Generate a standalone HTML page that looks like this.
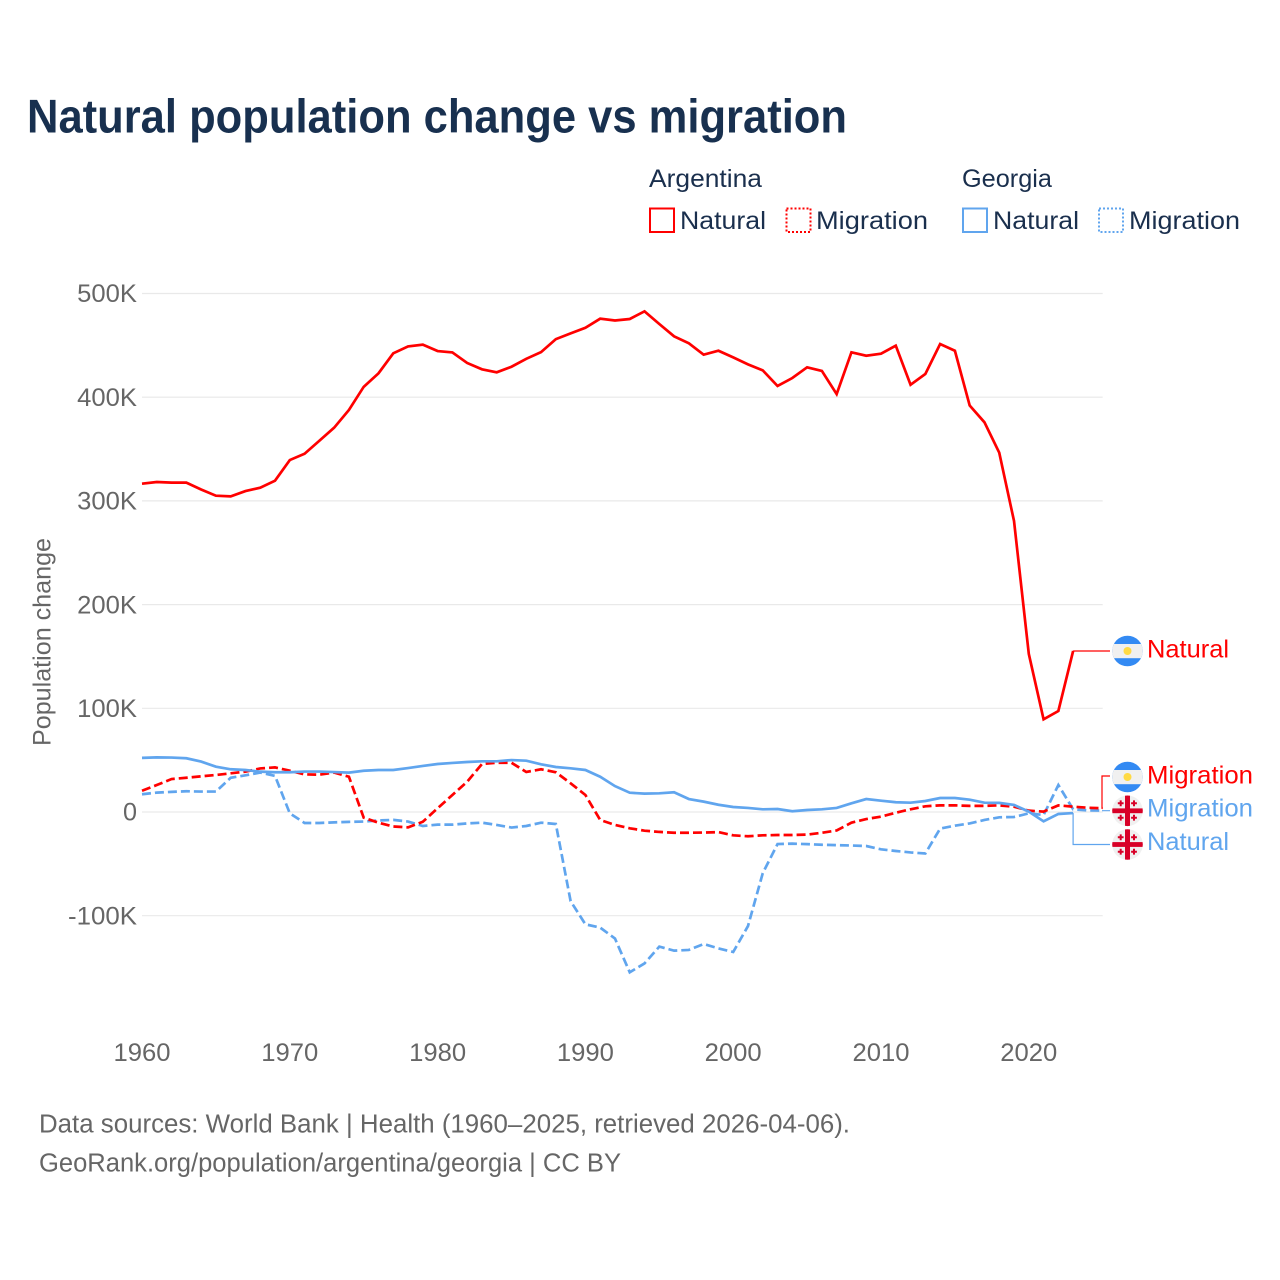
<!DOCTYPE html>
<html lang="en">
<head>
<meta charset="utf-8">
<title>Natural population change vs migration</title>
<style>
html,body{margin:0;padding:0;background:#fff;width:1280px;height:1280px;overflow:hidden}
svg{display:block;font-family:"Liberation Sans",sans-serif}
.lg{font-size:25px;fill:#1a2f4d}
.tick{font-size:25px;fill:#666}
.foot{font-size:25.5px;fill:#666}
</style>
</head>
<body>
<svg id="chart" xmlns="http://www.w3.org/2000/svg" width="1280" height="1280" viewBox="0 0 1280 1280">
<rect width="1280" height="1280" fill="#fff"/>
<defs>
<clipPath id="flag-clip-1"><circle cx="1127.5" cy="651" r="15.3"/></clipPath>
<clipPath id="flag-clip-2"><circle cx="1127.5" cy="777" r="15.3"/></clipPath>
<clipPath id="flag-clip-3"><circle cx="1127.5" cy="810.8" r="15.3"/></clipPath>
<clipPath id="flag-clip-4"><circle cx="1127.5" cy="844.5" r="15.3"/></clipPath>
</defs>

<text x="27" y="132.7" font-size="47" font-weight="700" fill="#18304f" textLength="820" lengthAdjust="spacingAndGlyphs">Natural population change vs migration</text>

<g>
<text class="lg" x="649" y="187" textLength="113" lengthAdjust="spacingAndGlyphs">Argentina</text>
<text class="lg" x="962" y="187" textLength="90" lengthAdjust="spacingAndGlyphs">Georgia</text>
<g>
<rect x="650" y="208.5" width="24" height="23.5" fill="none" stroke="#ff0000" stroke-width="2"/>
<text class="lg" x="680" y="229" textLength="86" lengthAdjust="spacingAndGlyphs">Natural</text>
</g>
<g>
<rect x="786.5" y="208.5" width="24" height="23.5" fill="none" stroke="#ff0000" stroke-width="2" stroke-dasharray="2 2"/>
<text class="lg" x="816" y="229" textLength="112" lengthAdjust="spacingAndGlyphs">Migration</text>
</g>
<g>
<rect x="963" y="208.5" width="24" height="23.5" fill="none" stroke="#60a5ee" stroke-width="2"/>
<text class="lg" x="993" y="229" textLength="86" lengthAdjust="spacingAndGlyphs">Natural</text>
</g>
<g>
<rect x="1099" y="208.5" width="24" height="23.5" fill="none" stroke="#60a5ee" stroke-width="2" stroke-dasharray="2 2"/>
<text class="lg" x="1129" y="229" textLength="111" lengthAdjust="spacingAndGlyphs">Migration</text>
</g>
</g>

<g id="grid"></g>
<g id="yticks"></g>
<g id="xticks"></g>
<text class="tick" transform="translate(50.500,642) rotate(-90)" text-anchor="middle" textLength="208" lengthAdjust="spacingAndGlyphs">Population change</text>
<g id="series"></g>

<g>
<g clip-path="url(#flag-clip-1)">
<rect x="1110" y="634" width="36" height="34" fill="#338af3"/><rect x="1110" y="644" width="36" height="14.2" fill="#f0f0f0"/><circle cx="1127.5" cy="651" r="4" fill="#ffda44"/>
</g>
<text x="1147" y="657.5" font-size="25" fill="#ff0000" textLength="82" lengthAdjust="spacingAndGlyphs">Natural</text>
<g clip-path="url(#flag-clip-2)">
<rect x="1110" y="760" width="36" height="34" fill="#338af3"/><rect x="1110" y="770" width="36" height="14.2" fill="#f0f0f0"/><circle cx="1127.5" cy="777" r="4" fill="#ffda44"/>
</g>
<text x="1147" y="783.5" font-size="25" fill="#ff0000" textLength="106" lengthAdjust="spacingAndGlyphs">Migration</text>
<g clip-path="url(#flag-clip-3)">
<rect x="1110" y="794" width="36" height="34" fill="#f0f0f0"/><rect x="1125" y="794" width="5" height="34" fill="#d80027"/><rect x="1110" y="808.4" width="36" height="4.800" fill="#d80027"/>
<path d="M1117.800 803.300h5.800M1120.700 800.400v5.800M1131.100 803.300h5.800M1134 800.400v5.800M1117.800 817.700h5.800M1120.700 814.800v5.800M1131.100 817.700h5.800M1134 814.800v5.800" stroke="#d80027" stroke-width="2" fill="none"/>
</g>
<text x="1147" y="816.700" font-size="25" fill="#60a5ee" textLength="106" lengthAdjust="spacingAndGlyphs">Migration</text>
<g clip-path="url(#flag-clip-4)">
<rect x="1110" y="828" width="36" height="34" fill="#f0f0f0"/><rect x="1125" y="828" width="5" height="34" fill="#d80027"/><rect x="1110" y="842.100" width="36" height="4.800" fill="#d80027"/>
<path d="M1117.800 837.300h5.800M1120.700 834.400v5.800M1131.100 837.300h5.800M1134 834.400v5.800M1117.800 851.700h5.800M1120.700 848.800v5.800M1131.100 851.700h5.800M1134 848.800v5.800" stroke="#d80027" stroke-width="2" fill="none"/>
</g>
<text x="1147" y="850" font-size="25" fill="#60a5ee" textLength="82" lengthAdjust="spacingAndGlyphs">Natural</text>
</g>

<text class="foot" x="39" y="1132.500" textLength="811" lengthAdjust="spacingAndGlyphs">Data sources: World Bank | Health (1960–2025, retrieved 2026-04-06).</text>
<text class="foot" x="39" y="1171.500" textLength="582" lengthAdjust="spacingAndGlyphs">GeoRank.org/population/argentina/georgia | CC BY</text>
</svg>
<script>
const startYear = 1960;
const xTickYears = [1960, 1970, 1980, 1990, 2000, 2010, 2020];
const yTickValues = [-100, 0, 100, 200, 300, 400, 500];
const yTickLabels = ['-100K', '0', '100K', '200K', '300K', '400K', '500K'];
const argentinaNatural = [316.6,318.2,317.6,317.6,311,305,304.4,309.5,312.7,319.5,339.4,345.5,358,370.6,387.7,410,423,442.3,449,450.7,444.5,443.2,433,426.9,424,429.4,437,443.5,456,461.6,467,475.7,474,475.4,482.8,470.6,458.7,452,441,444.8,438.4,431.7,425.9,410.8,418.5,428.8,425.3,403,443.3,440,442,449.7,412,422.4,451.3,444.8,392,375.8,346.5,280.6,152.4,89.4,97.4,155.3];
const argentinaMigration = [20.5,26,31.8,33,34.4,35.7,37.3,38.9,42,43,39.8,36.3,36,38,34,-5.5,-10.3,-14,-14.8,-9.4,3.6,16.4,29.2,46.3,47.5,47.5,38.6,41.2,38.3,27.7,16.4,-7.7,-12.5,-15.7,-18,-19.2,-20,-20,-19.8,-19.4,-22.5,-23.4,-22.5,-22.2,-22.2,-21.8,-20,-17.8,-10.3,-6.8,-4.5,-0.7,2.6,5.5,6.4,6.4,5.9,5.9,6.4,5.1,1.3,0.4,6.4,5.1,4.1,3.6];
const georgiaNatural = [52.2,52.7,52.5,51.8,48.6,43.7,41.2,40.5,38.9,38.3,38.3,39,39,38.5,38,39.8,40.5,40.5,42.4,44.4,46.3,47.3,48.2,48.9,48.9,50.1,49.5,46,43.4,42.1,40.5,34,25,18.6,17.7,18,19,12.5,10,7,4.8,3.9,2.6,2.9,0.7,1.9,2.6,3.9,8.4,12.5,10.9,9.4,9,10.6,13.5,13.5,11.9,9,8.8,6.8,0.4,-9,-1.9,-1];
const georgiaMigration = [17.1,18.7,19.4,20,19.7,19.7,33,35.4,38,34.8,-1.3,-10.6,-10.6,-10,-9.5,-9.2,-8.2,-7.6,-9.2,-13.5,-12.2,-12.2,-11,-10.3,-12.5,-15,-13.5,-10.3,-11.6,-86,-108.3,-111.5,-122,-154.6,-146,-129.8,-133.7,-133,-127.3,-131.5,-135,-110,-59,-30.9,-30.5,-31,-31.6,-32,-32.3,-32.8,-36,-37.6,-39,-40,-16,-13.2,-11,-7.7,-5.1,-4.8,-1.3,-2.9,26,2.6,1.6,1.3];

const NS = 'http://www.w3.org/2000/svg';
const xScale = year => 142 + (year - startYear) * 14.78;
const yScale = value => 812 - value * 1.037;
const svgEl = tag => document.createElementNS(NS, tag);
const seriesPath = values => values.map((v, i) => (i ? 'L' : 'M') + xScale(startYear + i).toFixed(2) + ' ' + yScale(v).toFixed(2)).join('');

const gridGroup = document.getElementById('grid');
const yTickGroup = document.getElementById('yticks');
yTickValues.forEach((v, i) => {
  const line = svgEl('line');
  
  
  line.setAttribute('x1', 142);
  line.setAttribute('x2', xScale(2025));
  line.setAttribute('y1', yScale(v));
  line.setAttribute('y2', yScale(v));
  line.setAttribute('stroke', '#e9e9e9');
  line.setAttribute('stroke-width', '1.2');
  gridGroup.appendChild(line);
  const label = svgEl('text');
  
  
  label.setAttribute('class', 'tick');
  label.setAttribute('x', 137);
  label.setAttribute('y', yScale(v) + 8.7);
  label.setAttribute('text-anchor', 'end');
  label.setAttribute('textLength', yTickLabels[i].length === 1 ? 14 : yTickLabels[i].length * 14.2 - (yTickLabels[i].length > 4 ? 2 : -3));
  label.setAttribute('lengthAdjust', 'spacingAndGlyphs');
  label.textContent = yTickLabels[i];
  yTickGroup.appendChild(label);
});

const xTickGroup = document.getElementById('xticks');
xTickYears.forEach(year => {
  const label = svgEl('text');
  
  
  label.setAttribute('class', 'tick');
  label.setAttribute('x', xScale(year));
  label.setAttribute('y', 1061);
  label.setAttribute('text-anchor', 'middle');
  label.setAttribute('textLength', 57);
  label.setAttribute('lengthAdjust', 'spacingAndGlyphs');
  label.textContent = String(year);
  xTickGroup.appendChild(label);
});

const seriesGroup = document.getElementById('series');

const georgiaMigrationLine = svgEl('path');


georgiaMigrationLine.setAttribute('d', seriesPath(georgiaMigration));
georgiaMigrationLine.setAttribute('fill', 'none');
georgiaMigrationLine.setAttribute('stroke', '#60a5ee');
georgiaMigrationLine.setAttribute('stroke-width', '2.7');
georgiaMigrationLine.setAttribute('stroke-dasharray', '9 4');
seriesGroup.appendChild(georgiaMigrationLine);

const argentinaMigrationLine = svgEl('path');


argentinaMigrationLine.setAttribute('d', seriesPath(argentinaMigration));
argentinaMigrationLine.setAttribute('fill', 'none');
argentinaMigrationLine.setAttribute('stroke', '#ff0000');
argentinaMigrationLine.setAttribute('stroke-width', '2.7');
argentinaMigrationLine.setAttribute('stroke-dasharray', '9 4');
seriesGroup.appendChild(argentinaMigrationLine);

const argentinaNaturalLine = svgEl('path');


argentinaNaturalLine.setAttribute('d', seriesPath(argentinaNatural));
argentinaNaturalLine.setAttribute('fill', 'none');
argentinaNaturalLine.setAttribute('stroke', '#ff0000');
argentinaNaturalLine.setAttribute('stroke-width', '2.7');
seriesGroup.appendChild(argentinaNaturalLine);

const georgiaNaturalLine = svgEl('path');


georgiaNaturalLine.setAttribute('d', seriesPath(georgiaNatural));
georgiaNaturalLine.setAttribute('fill', 'none');
georgiaNaturalLine.setAttribute('stroke', '#60a5ee');
georgiaNaturalLine.setAttribute('stroke-width', '2.7');
seriesGroup.appendChild(georgiaNaturalLine);

const leaderPath = (values, labelY) => {
  const lastX = xScale(startYear + values.length - 1);
  const lastY = yScale(values[values.length - 1]);
  const elbowX = Math.min(lastX, 1102);
  return 'M' + lastX.toFixed(1) + ' ' + lastY.toFixed(1) + 'H' + elbowX.toFixed(1) + 'V' + labelY + 'H1110';
};

const leaderArgNatural = svgEl('path');


leaderArgNatural.setAttribute('d', leaderPath(argentinaNatural, 651));
leaderArgNatural.setAttribute('fill', 'none');
leaderArgNatural.setAttribute('stroke', '#ff0000');
leaderArgNatural.setAttribute('stroke-width', '1.2');
seriesGroup.appendChild(leaderArgNatural);

const leaderArgMigration = svgEl('path');


leaderArgMigration.setAttribute('d', leaderPath(argentinaMigration, 776));
leaderArgMigration.setAttribute('fill', 'none');
leaderArgMigration.setAttribute('stroke', '#ff0000');
leaderArgMigration.setAttribute('stroke-width', '1.2');
seriesGroup.appendChild(leaderArgMigration);

const leaderGeoMigration = svgEl('path');


leaderGeoMigration.setAttribute('d', leaderPath(georgiaMigration, 810.7));
leaderGeoMigration.setAttribute('fill', 'none');
leaderGeoMigration.setAttribute('stroke', '#60a5ee');
leaderGeoMigration.setAttribute('stroke-width', '1.2');
seriesGroup.appendChild(leaderGeoMigration);

const leaderGeoNatural = svgEl('path');


leaderGeoNatural.setAttribute('d', leaderPath(georgiaNatural, 844.5));
leaderGeoNatural.setAttribute('fill', 'none');
leaderGeoNatural.setAttribute('stroke', '#60a5ee');
leaderGeoNatural.setAttribute('stroke-width', '1.2');
seriesGroup.appendChild(leaderGeoNatural);
</script>
</body>
</html>
